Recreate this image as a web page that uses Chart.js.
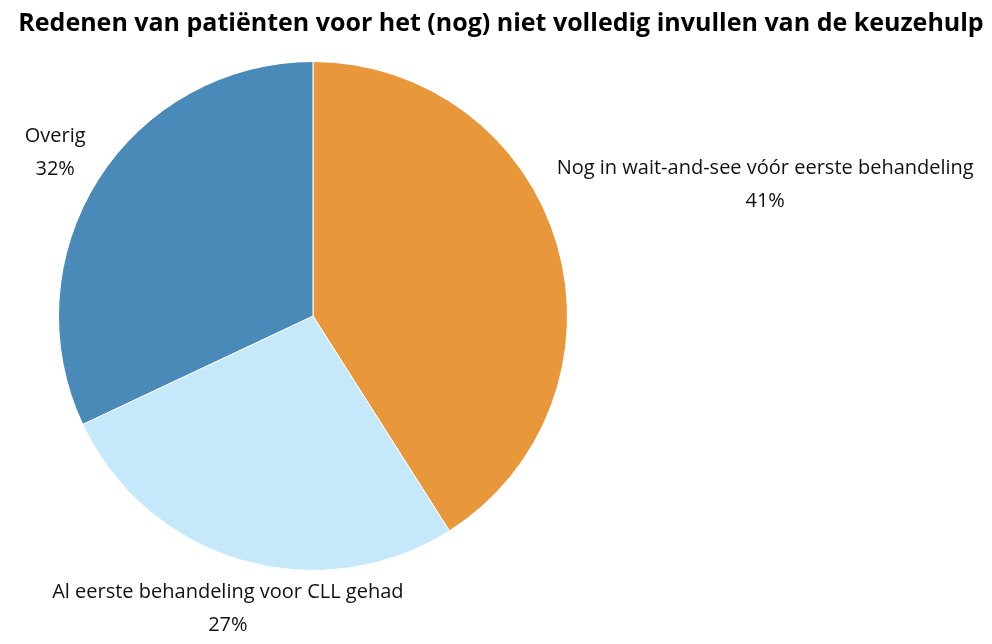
<!DOCTYPE html>
<html>
<head>
<meta charset="utf-8">
<script src="https://cdn.jsdelivr.net/npm/chart.js@4"></script>
<style>
  html, body { margin: 0; padding: 0; background: #fff; }
  #wrap { width: 992px; height: 644px; }
</style>
</head>
<body>
<div id="wrap"><canvas id="chart"></canvas></div>
<script>
const chartTitle = "Redenen van patiënten voor het (nog) niet volledig invullen van de keuzehulp";
const categories = [
  "Nog in wait-and-see vóór eerste behandeling",
  "Al eerste behandeling voor CLL gehad",
  "Overig"
];
const shares = [41, 27, 32];
const sliceColors = ["#e8983a", "#c5e8fb", "#4a8ab8"];

// draws title centred on the whole canvas (layout padding shifts the pie left)
const titlePlugin = {
  id: "pageTitle",
  afterDraw(chart) {
    const ctx = chart.ctx;
    ctx.save();
    ctx.font = "bold 25px 'Open Sans'";
    ctx.fillStyle = "#000";
    ctx.textAlign = "center";
    ctx.textBaseline = "middle";
    ctx.fillText(chartTitle, chart.width / 2 + 5, 24);
    ctx.restore();
  }
};

// labels outside each slice, pushed out along the mid angle until the
// text box sits a fixed gap away from the circle
const outsideLabels = {
  id: "outsideLabels",
  afterDatasetsDraw(chart) {
    const ctx = chart.ctx;
    const meta = chart.getDatasetMeta(0);
    const gap = 10;
    const lineGap = 33;
    ctx.save();
    ctx.font = "20px 'Open Sans'";
    ctx.fillStyle = "#111";
    ctx.textAlign = "center";
    ctx.textBaseline = "middle";
    meta.data.forEach((arc, i) => {
      const p = arc.getProps(["x", "y", "startAngle", "endAngle", "outerRadius"], true);
      const mid = (p.startAngle + p.endAngle) / 2;
      const dx = Math.cos(mid), dy = Math.sin(mid);
      const lines = [categories[i], shares[i] + "%"];
      const w = Math.max(...lines.map(l => ctx.measureText(l).width));
      const h = lineGap + 24;
      const target = p.outerRadius + gap;
      let lo = 0, hi = 1200;
      for (let n = 0; n < 40; n++) {
        const k = (lo + hi) / 2;
        const ex = Math.max(Math.abs(dx * k) - w / 2, 0);
        const ey = Math.max(Math.abs(dy * k) - h / 2, 0);
        if (Math.hypot(ex, ey) < target) lo = k; else hi = k;
      }
      const bx = p.x + dx * lo, by = p.y + dy * lo;
      ctx.fillText(lines[0], bx, by - lineGap / 2);
      ctx.fillText(lines[1], bx, by + lineGap / 2);
    });
    ctx.restore();
  }
};

function draw() {
  new Chart(document.getElementById("chart"), {
    type: "pie",
    data: {
      labels: categories,
      datasets: [{
        data: shares,
        backgroundColor: sliceColors,
        borderColor: "#ffffff",
        borderWidth: 1
      }]
    },
    options: {
      responsive: true,
      maintainAspectRatio: false,
      animation: false,
      layout: { padding: { top: 61, bottom: 73, left: 58, right: 424 } },
      plugins: {
        legend: { display: false },
        tooltip: { enabled: false },
        title: { display: false }
      }
    },
    plugins: [titlePlugin, outsideLabels]
  });
}

if (document.fonts && document.fonts.load) {
  Promise.all([
    document.fonts.load("bold 25px 'Open Sans'"),
    document.fonts.load("20px 'Open Sans'")
  ]).then(draw, draw);
} else {
  draw();
}
</script>
</body>
</html>
